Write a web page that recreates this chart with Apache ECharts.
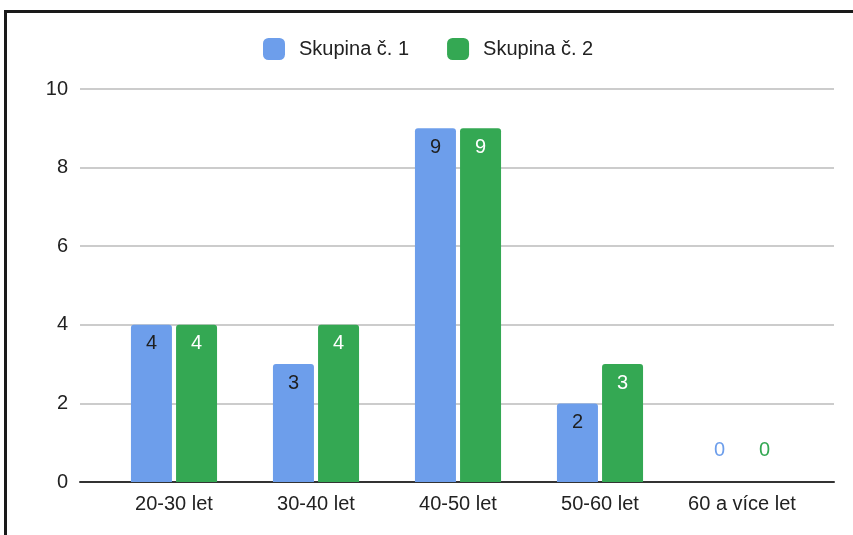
<!DOCTYPE html>
<html><head><meta charset="utf-8">
<script src="https://cdn.jsdelivr.net/npm/echarts@6/dist/echarts.min.js"></script>
<style>
html,body{margin:0;padding:0;background:#fff;}
#frame{position:absolute;left:4px;top:10px;width:860px;height:540px;border-left:3px solid #1a1a1a;border-top:3px solid #1a1a1a;box-sizing:border-box;}
#c{position:absolute;left:0;top:0;width:853px;height:535px;}
</style></head>
<body>
<div id="frame"></div>
<div id="c"></div>
<script>
const categories = ['20-30 let','30-40 let','40-50 let','50-60 let','60 a více let'];
const seriesNames = ['Skupina č. 1','Skupina č. 2'];
const group1 = [4,3,9,2,0];
const group2 = [4,4,9,3,0];
const yTicks = [0,2,4,6,8,10];
const colors = ['#6d9eeb','#34a853'];
const labelColors = ['#1f1f1f','#ffffff'];
const FONT = 'Liberation Sans, Arial, sans-serif';

function mkData(vals, idx){
  return vals.map(v => v === 0 ? {value:v, label:{position:'top', distance:22, color:colors[idx]}} : v);
}
const chart = echarts.init(document.getElementById('c'));
chart.setOption({
  animation:false,
  color: colors,
  legend:{
    data: seriesNames,
    left: 258, top: 33,
    itemWidth:22, itemHeight:22, itemGap:38,
    icon:'roundRect',
    textStyle:{fontFamily:FONT, fontSize:20, color:'#222', padding:[0,0,0,9]}
  },
  grid:[
    {left:80, right:19, top:89, bottom:53},
    {left:103, right:40, top:89, bottom:53}
  ],
  xAxis:[
    {gridIndex:0, type:'category', data:categories, axisLine:{lineStyle:{color:'#333', width:2}}, axisTick:{show:false}, axisLabel:{show:false}},
    {gridIndex:1, type:'category', data:categories, axisLine:{show:false}, axisTick:{show:false},
     axisLabel:{fontFamily:FONT, fontSize:20, color:'#222', margin:12}}
  ],
  yAxis:[
    {gridIndex:0, type:'value', min:0, max:10, interval:2,
     axisLabel:{fontFamily:FONT, fontSize:20, color:'#222', margin:12, formatter: v => yTicks.includes(v) ? String(v) : ''},
     splitLine:{lineStyle:{color:'#cccccc', width:2}}, axisLine:{show:false}, axisTick:{show:false}},
    {gridIndex:1, type:'value', min:0, max:10, interval:2, show:false, splitLine:{show:false}}
  ],
  series:[
    {name:seriesNames[0], type:'bar', xAxisIndex:1, yAxisIndex:1, data:mkData(group1,0), barWidth:41, barGap:'10%',
     itemStyle:{color:colors[0], borderRadius:[3,3,0,0]},
     label:{show:true, position:'insideTop', distance:9, fontFamily:FONT, fontSize:20, color:labelColors[0]}},
    {name:seriesNames[1], type:'bar', xAxisIndex:1, yAxisIndex:1, data:mkData(group2,1), barWidth:41, barGap:'10%',
     itemStyle:{color:colors[1], borderRadius:[3,3,0,0]},
     label:{show:true, position:'insideTop', distance:9, fontFamily:FONT, fontSize:20, color:labelColors[1]}}
  ]
});
</script>
</body></html>
